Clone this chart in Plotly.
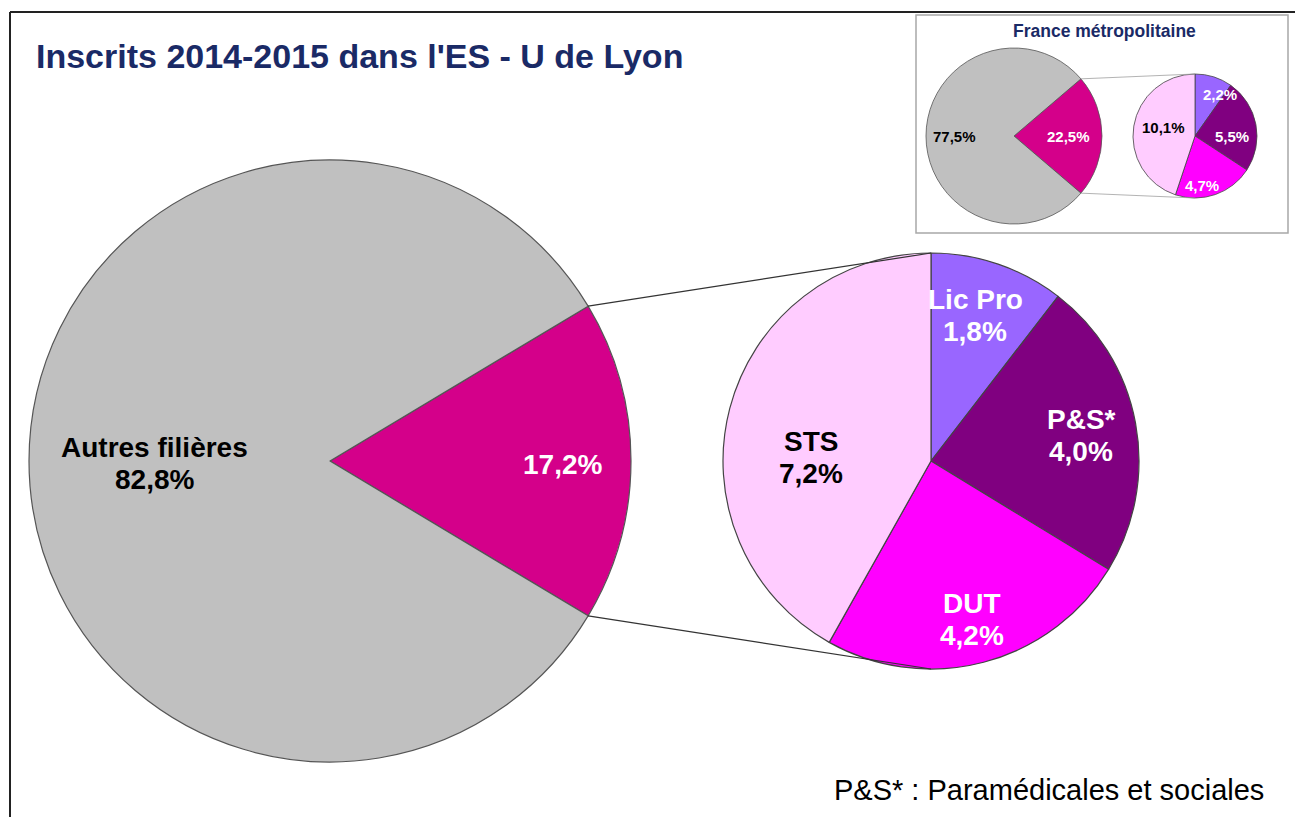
import math
import plotly.graph_objects as go

# ---------------- data ----------------
main_labels = ["Sélection", "Autres filières"]
main_values = [17.2, 82.8]
detail_labels = ["Lic Pro", "P&S*", "DUT", "STS"]
detail_values = [1.8, 4.0, 4.2, 7.2]

fr_main_values = [22.5, 77.5]
fr_detail_values = [2.2, 5.5, 4.7, 10.1]

title_text = "Inscrits 2014-2015 dans l'ES - U de Lyon"
inset_title = "France métropolitaine"
footnote = "P&S* : Paramédicales et sociales"

# ---------------- style ----------------
W, H = 1295, 817
GRAY = "#C0C0C0"
MAGENTA = "#D4008A"
detail_colors = ["#9966FF", "#800080", "#FF00FF", "#FFCCFF"]
NAVY = "#1A2A66"
FONT = "Liberation Sans, Arial, sans-serif"


def px(x):
    return x / W


def py(y):
    return 1 - y / H


def fmt(v):
    return f"{v:.1f}".replace(".", ",") + "%"


def domain(cx, cy, r):
    return dict(x=[px(cx - r), px(cx + r)], y=[py(cy + r), py(cy - r)])


fig = go.Figure()

# geometry of the pies (pixels)
M = dict(cx=330, cy=461, r=301)
D = dict(cx=931, cy=461, r=208)
FM = dict(cx=1014, cy=136, r=88)
FD = dict(cx=1195, cy=136, r=62)


def add_pair(values, det_values, m, d, lw, line_col):
    sel = values[0]
    half = sel / sum(values) * 360 / 2
    fig.add_trace(go.Pie(
        values=values, labels=["a", "b"], sort=False, direction="clockwise",
        rotation=90 - half, textinfo="none", hoverinfo="skip",
        marker=dict(colors=[MAGENTA, GRAY], line=dict(color="#555555", width=lw)),
        domain=domain(m["cx"], m["cy"], m["r"]), showlegend=False))
    fig.add_trace(go.Pie(
        values=det_values, labels=detail_labels, sort=False, direction="clockwise",
        rotation=0, textinfo="none", hoverinfo="skip",
        marker=dict(colors=detail_colors, line=dict(color="#444444", width=lw)),
        domain=domain(d["cx"], d["cy"], d["r"]), showlegend=False))
    # connector lines
    a = math.radians(half)
    x0 = m["cx"] + m["r"] * math.cos(a)
    ytop = m["cy"] - m["r"] * math.sin(a)
    ybot = m["cy"] + m["r"] * math.sin(a)
    for y0, y1 in [(ytop, d["cy"] - d["r"]), (ybot, d["cy"] + d["r"])]:
        fig.add_shape(type="line", xref="paper", yref="paper",
                      x0=px(x0), y0=py(y0), x1=px(d["cx"]), y1=py(y1),
                      line=dict(color=line_col, width=lw))


# inset frame
fig.add_shape(type="rect", xref="paper", yref="paper", layer="below",
              x0=px(916), y0=py(233), x1=px(1288), y1=py(15),
              line=dict(color="#A8A8A8", width=1.5), fillcolor="white")

add_pair(main_values, detail_values, M, D, 1.2, "#333333")
add_pair(fr_main_values, fr_detail_values, FM, FD, 0.8, "#A0A0A0")

# outer border (top and left)
fig.add_shape(type="line", xref="paper", yref="paper", x0=px(10), y0=py(12), x1=1, y1=py(12),
              line=dict(color="#222222", width=2))
fig.add_shape(type="line", xref="paper", yref="paper", x0=px(10), y0=py(12), x1=px(10), y1=0,
              line=dict(color="#222222", width=2))

ann = []


def label(x, y, text, size, color, bold=True, xanchor="center", font=FONT):
    ann.append(dict(x=px(x), y=py(y), xref="paper", yref="paper", text=(f"<b>{text}</b>" if bold else text),
                    showarrow=False, xanchor=xanchor, yanchor="middle",
                    font=dict(family=font, size=size, color=color), align="center"))


def label2(x, y, l1, l2, size, color, gap=32):
    label(x, y - gap / 2, l1, size, color)
    label(x, y + gap / 2, l2, size, color)


LS = 28
# main labels
label2(154, 463, main_labels[1], fmt(main_values[1]), LS, "black")
label(562, 464, fmt(main_values[0]), LS, "white")
det_pos = [(975, 315, "white"), (1081, 435, "white"), (972, 619, "white"), (811, 457, "black")]
for (x, y, c), lab, v in zip(det_pos, detail_labels, detail_values):
    label2(x, y, lab, fmt(v), LS, c)

# inset labels
IS = 15
label(954, 137, fmt(fr_main_values[1]), IS, "black")
label(1068, 137, fmt(fr_main_values[0]), IS, "white")
fr_pos = [(1220, 94, "white"), (1232, 137, "white"), (1202, 185, "white"), (1163, 128, "black")]
for (x, y, c), v in zip(fr_pos, fr_detail_values):
    label(x, y, fmt(v), IS, c)

label(1104, 31, inset_title, 17.5, NAVY)
label(34, 56, title_text, 34, NAVY, xanchor="left")
label(1266, 790, footnote, 29, "black", bold=False, xanchor="right")

fig.update_layout(width=W, height=H, margin=dict(l=0, r=0, t=0, b=0),
                  paper_bgcolor="white", plot_bgcolor="white", annotations=ann)

fig.write_html("out.html", config={"displayModeBar": False},
               post_script="document.body.style.margin='0';")
